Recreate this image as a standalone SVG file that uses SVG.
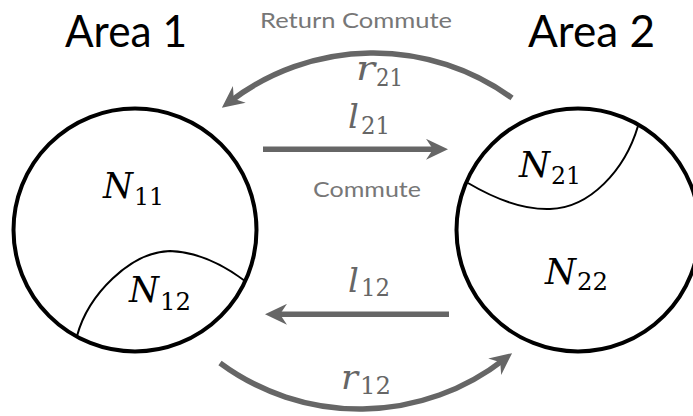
<svg xmlns="http://www.w3.org/2000/svg" width="693" height="416" viewBox="0 0 693 416">
<style>
.area{fill:none;stroke:#000;stroke-width:4}
.div{fill:none;stroke:#000;stroke-width:2}
.conn{fill:none;stroke:#666;stroke-width:5.5}
.title{font-family:Lato,"Open Sans",sans-serif;font-size:44px;fill:#000}
.cap{font-family:Lato,"Open Sans",sans-serif;font-size:22px;fill:#777}
.m{font-family:"DejaVu Serif","Liberation Serif",serif}
.nl{fill:#000}
.gl{fill:#666}
</style>
<defs>
<marker id="ah" viewBox="0 0 22 21" refX="12" refY="10.5" markerWidth="22" markerHeight="21" markerUnits="userSpaceOnUse" orient="auto">
<path d="M0,0 L22,10.5 L0,21 L7,10.5 Z" fill="#666"/>
</marker>
</defs>
<rect width="693" height="416" fill="#fff"/>
<text class="title" x="65" y="47" textLength="122" lengthAdjust="spacingAndGlyphs">Area 1</text>
<text class="title" x="528" y="47" textLength="127" lengthAdjust="spacingAndGlyphs">Area 2</text>
<text class="cap" x="260" y="28.3" textLength="192" lengthAdjust="spacingAndGlyphs">Return Commute</text>
<text class="cap" x="313" y="196.7" textLength="108" lengthAdjust="spacingAndGlyphs">Commute</text>
<g id="area1">
<circle class="area" cx="135" cy="230" r="121.5"/>
<path class="div" d="M77,336 C88,295 130,252 170,251 C200,252 225,266 245,281"/>
<g id="N11" class="nl m"><text font-style="italic" font-size="36" x="103" y="197.5" textLength="30" lengthAdjust="spacingAndGlyphs">N</text><text font-size="24" x="134" y="204.5" textLength="30" lengthAdjust="spacingAndGlyphs">11</text></g>
<g id="N12" class="nl m"><text font-style="italic" font-size="36" x="129" y="302" textLength="30" lengthAdjust="spacingAndGlyphs">N</text><text font-size="24" x="160" y="310" textLength="31" lengthAdjust="spacingAndGlyphs">12</text></g>
</g>
<g id="area2">
<circle class="area" cx="578" cy="230" r="121.5"/>
<path class="div" d="M468,183 C490,196 520,210 550,209 C590,208 625,170 638,126"/>
<g id="N21" class="nl m"><text font-style="italic" font-size="36" x="519" y="177" textLength="31" lengthAdjust="spacingAndGlyphs">N</text><text font-size="24" x="551" y="183.5" textLength="30" lengthAdjust="spacingAndGlyphs">21</text></g>
<g id="N22" class="nl m"><text font-style="italic" font-size="36" x="545" y="283.5" textLength="31" lengthAdjust="spacingAndGlyphs">N</text><text font-size="24" x="577" y="290" textLength="31" lengthAdjust="spacingAndGlyphs">22</text></g>
</g>
<g id="connectors">
<path class="conn" d="M263,149.3 H438" marker-end="url(#ah)"/>
<path class="conn" d="M449,314.3 H275" marker-end="url(#ah)"/>
<path class="conn" stroke-width="5" d="M512,98 A235.6,235.6 0 0 0 229.8,101.7" marker-end="url(#ah)"/>
<path class="conn" stroke-width="5" d="M220,363 A235.1,235.1 0 0 0 504.2,359.3" marker-end="url(#ah)"/>
</g>
<g id="labels" class="gl m">
<text font-style="italic" font-size="34" x="348" y="127.5">l</text><text font-size="24" x="361" y="134" textLength="29" lengthAdjust="spacingAndGlyphs">21</text>
<text font-style="italic" font-size="34" x="348" y="292">l</text><text font-size="24" x="361" y="296" textLength="29" lengthAdjust="spacingAndGlyphs">12</text>
<text font-style="italic" font-size="34" x="356" y="79.5" textLength="19" lengthAdjust="spacingAndGlyphs">r</text><text font-size="24" x="376" y="86" textLength="27" lengthAdjust="spacingAndGlyphs">21</text>
<text font-style="italic" font-size="34" x="341" y="388.5" textLength="17" lengthAdjust="spacingAndGlyphs">r</text><text font-size="24" x="360" y="394" textLength="31" lengthAdjust="spacingAndGlyphs">12</text>
</g>
</svg>
